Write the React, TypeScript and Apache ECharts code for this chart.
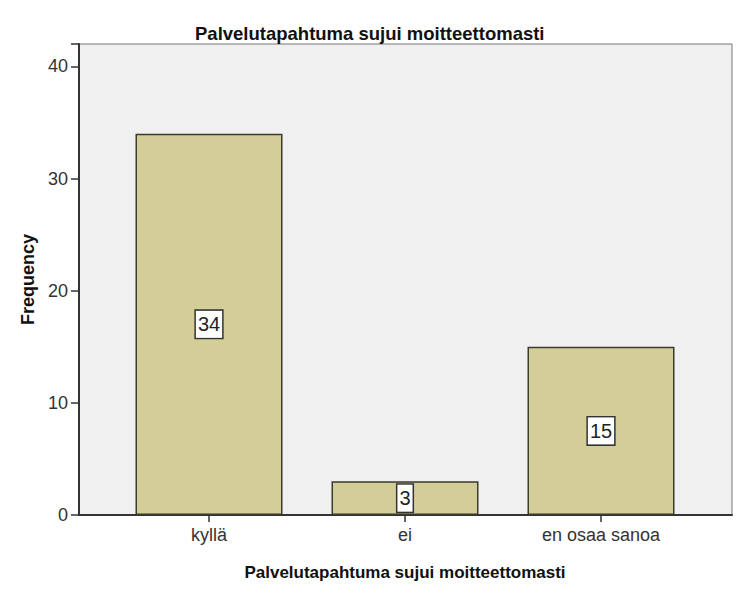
import { useEffect, useRef } from 'react'
import * as echarts from 'echarts'

const categories = ['kyllä', 'ei', 'en osaa sanoa']
const frequencies = [34, 3, 15]
const yTicks = [0, 10, 20, 30, 40]

const FONT = '"Liberation Sans", Arial, sans-serif'

export default function App() {
  const ref = useRef<HTMLDivElement>(null)

  useEffect(() => {
    if (!ref.current) return
    const c = echarts.init(ref.current, null, { renderer: 'svg' })
    c.setOption({
      animation: false,
      textStyle: { fontFamily: FONT },
      title: {
        text: 'Palvelutapahtuma sujui moitteettomasti', left: 190, top: 19,
        textStyle: { fontSize: 18.5, fontWeight: 'bold', color: '#111', fontFamily: FONT },
      },
      grid: [
        { left: 79, right: 10, top: 44, bottom: 80, show: true, backgroundColor: '#f0f0f0', borderColor: '#777', borderWidth: 1 },
        { left: 111, right: 43, top: 44, bottom: 80 },
      ],
      xAxis: [
        { gridIndex: 0, type: 'category', data: [''], axisLine: { lineStyle: { color: '#333', width: 2 } }, axisTick: { show: false }, axisLabel: { show: false } },
        {
          gridIndex: 1, type: 'category', data: categories,
          axisLine: { show: false }, axisTick: { show: true, alignWithLabel: true, length: 7, lineStyle: { color: '#333', width: 1.5 } },
          axisLabel: { fontSize: 18, color: '#333', margin: 11, fontFamily: FONT },
          name: 'Palvelutapahtuma sujui moitteettomasti', nameLocation: 'middle', nameGap: 49,
          nameTextStyle: { fontSize: 17, fontWeight: 'bold', color: '#111', fontFamily: FONT },
        },
      ],
      yAxis: [
        {
          gridIndex: 0, type: 'value', min: yTicks[0], max: 42, interval: 10,
          axisLine: { show: true, lineStyle: { color: '#333', width: 2 } },
          axisTick: { show: true, length: 8, lineStyle: { color: '#333', width: 1.5 } },
          axisLabel: { fontSize: 18, color: '#333', margin: 11, fontFamily: FONT, formatter: (v: number) => (yTicks.includes(v) ? String(v) : '') },
          splitLine: { show: false },
          name: 'Frequency', nameLocation: 'middle', nameGap: 41, nameRotate: 90,
          nameTextStyle: { fontSize: 18, fontWeight: 'bold', color: '#111', fontFamily: FONT },
        },
        { gridIndex: 1, type: 'value', min: 0, max: 42, show: false },
      ],
      series: [{
        type: 'bar', xAxisIndex: 1, yAxisIndex: 1, data: frequencies, barWidth: 147,
        itemStyle: { color: '#d3ce97', borderColor: '#3a3a30', borderWidth: 1.5 },
        label: {
          show: true, position: 'inside', fontSize: 20, color: '#222', fontFamily: FONT,
          backgroundColor: '#fff', borderColor: '#333', borderWidth: 1.5, padding: [4, 2, 3, 2],
        },
      }],
    })
    return () => c.dispose()
  }, [])

  return <div ref={ref} style={{ position: 'fixed', left: 0, top: 0, width: 742, height: 595, background: '#fff' }} />
}
